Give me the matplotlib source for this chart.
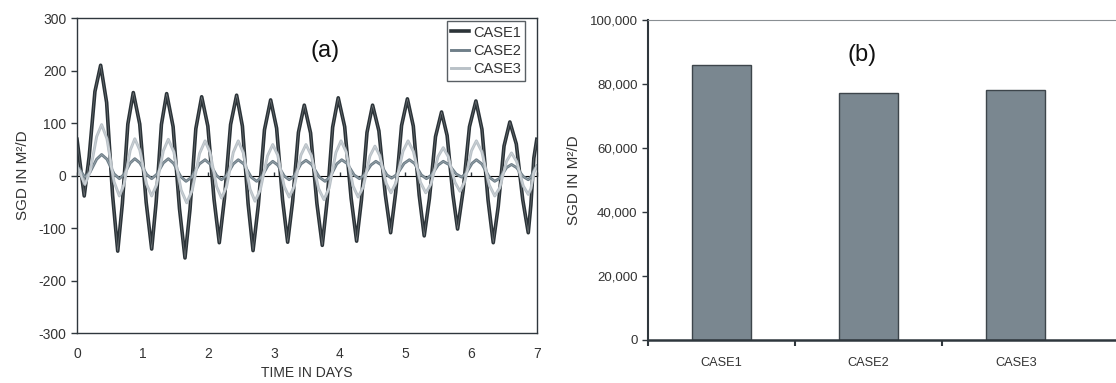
import matplotlib
matplotlib.use("Agg")
import matplotlib.pyplot as plt
from matplotlib.ticker import FuncFormatter

plt.rcParams['font.family'] = ['Liberation Sans', 'DejaVu Sans']
plt.rcParams['axes.unicode_minus'] = False

# (a) SGD time series (peaks, troughs and flanks)
t_case1 = [0, 0.11, 0.185, 0.273, 0.36, 0.451, 0.542, 0.62, 0.691, 0.774, 0.857, 0.955, 1.053,
           1.137, 1.205, 1.285, 1.365, 1.463, 1.56, 1.644, 1.72, 1.809, 1.898, 1.992, 2.086,
           2.166, 2.245, 2.338, 2.43, 2.518, 2.605, 2.68, 2.76, 2.854, 2.948, 3.039, 3.129,
           3.207, 3.283, 3.371, 3.46, 3.556, 3.652, 3.734, 3.807, 3.892, 3.977, 4.075, 4.173,
           4.257, 4.33, 4.415, 4.5, 4.596, 4.693, 4.775, 4.852, 4.941, 5.03, 5.12, 5.209,
           5.286, 5.365, 5.458, 5.55, 5.635, 5.721, 5.794, 5.878, 5.975, 6.073, 6.165, 6.258,
           6.337, 6.413, 6.501, 6.59, 6.688, 6.786, 6.87, 6.91, 6.955, 7.0]
sgd_case1 = [69, -39, 36, 160, 210, 139, -38, -144, -53, 98, 158, 98, -51,
             -140, -51, 97, 156, 93, -63, -157, -65, 89, 150, 94, -45,
             -128, -44, 97, 153, 94, -54, -143, -57, 87, 144, 90, -46,
             -127, -49, 82, 134, 81, -53, -133, -49, 92, 148, 93, -43,
             -125, -47, 82, 134, 85, -36, -109, -32, 95, 146, 94, -37,
             -115, -44, 74, 121, 76, -35, -102, -29, 93, 142, 88, -47,
             -128, -59, 56, 102, 60, -46, -109, -56, 33, 69]

t_case2 = [0, 0.12, 0.197, 0.299, 0.375, 0.456, 0.564, 0.645, 0.716, 0.81, 0.88, 0.957, 1.06,
           1.137, 1.213, 1.314, 1.39, 1.471, 1.579, 1.66, 1.747, 1.863, 1.95, 2.025, 2.125,
           2.2, 2.277, 2.379, 2.455, 2.539, 2.651, 2.735, 2.809, 2.907, 2.98, 3.055, 3.155,
           3.23, 3.307, 3.409, 3.486, 3.573, 3.688, 3.775, 3.852, 3.954, 4.03, 4.111, 4.219,
           4.3, 4.375, 4.475, 4.55, 4.622, 4.718, 4.79, 4.871, 4.979, 5.06, 5.138, 5.242,
           5.32, 5.397, 5.499, 5.576, 5.66, 5.771, 5.855, 5.923, 6.013, 6.08, 6.164, 6.276,
           6.36, 6.437, 6.539, 6.615, 6.692, 6.794, 6.87, 6.91, 6.96, 7.0]
sgd_case2 = [18, -3, 6, 31, 40, 31, 3, -6, 2, 24, 32, 24, 2,
             -6, 2, 24, 32, 23, -2, -11, -3, 22, 30, 22, 0,
             -8, 0, 22, 30, 22, -3, -11, -3, 19, 27, 20, -1,
             -8, -1, 22, 29, 21, -3, -11, -3, 22, 30, 23, 1,
             -6, 1, 20, 27, 21, 1, -5, 2, 23, 30, 23, 1,
             -6, 1, 20, 27, 21, 3, -3, 4, 23, 30, 22, -3,
             -11, -5, 15, 21, 15, -2, -8, -3, 10, 18]

t_case3 = [0, 0.12, 0.197, 0.299, 0.375, 0.456, 0.564, 0.645, 0.716, 0.81, 0.88, 0.957, 1.06,
           1.137, 1.213, 1.314, 1.39, 1.474, 1.586, 1.67, 1.754, 1.866, 1.95, 2.025, 2.125,
           2.2, 2.277, 2.379, 2.455, 2.532, 2.634, 2.71, 2.791, 2.899, 2.98, 3.055, 3.155,
           3.23, 3.307, 3.409, 3.486, 3.568, 3.678, 3.76, 3.838, 3.942, 4.02, 4.098, 4.202,
           4.28, 4.357, 4.459, 4.536, 4.609, 4.707, 4.78, 4.858, 4.962, 5.04, 5.121, 5.229,
           5.31, 5.39, 5.496, 5.576, 5.652, 5.754, 5.83, 5.905, 6.005, 6.08, 6.164, 6.276,
           6.36, 6.437, 6.539, 6.615, 6.692, 6.794, 6.87, 6.91, 6.96, 7.0]
sgd_case3 = [18, -17, 6, 74, 97, 70, -12, -39, -17, 48, 70, 48, -17,
             -39, -17, 47, 69, 45, -28, -52, -28, 42, 66, 44, -21,
             -43, -21, 44, 66, 43, -26, -49, -27, 37, 59, 39, -21,
             -41, -21, 39, 59, 38, -25, -46, -24, 44, 66, 45, -20,
             -41, -22, 37, 56, 38, -15, -33, -13, 46, 66, 46, -13,
             -33, -16, 36, 53, 36, -13, -30, -11, 47, 66, 45, -18,
             -39, -23, 27, 43, 27, -20, -36, -25, 7, 18]

# (b) total SGD per case
cases = ["CASE1", "CASE2", "CASE3"]
total_sgd = [85900, 77300, 78000]

dark = "#2f373d"
text_col = "#333333"
line_colors = ["#2b3338", "#6f7f89", "#b9c1c7"]

fig = plt.figure(figsize=(11.16, 3.83), dpi=100)

# ---- panel (a)
ax1 = fig.add_axes([0.069, 0.1305, 0.412, 0.8225])
series = [(t_case1, sgd_case1, "CASE1", 2.6), (t_case2, sgd_case2, "CASE2", 2.1), (t_case3, sgd_case3, "CASE3", 2.1)]
for (t, v, name, lw), c in zip(series, line_colors):
    ax1.plot(t, v, color=c, lw=lw, label=name, solid_joinstyle='round')
# thin light trace running inside each curve
for (t, v, name, lw), c in zip(series, line_colors):
    ax1.plot(t, v, color="white", lw=0.4, alpha=0.35)

ax1.set_xlim(0, 7)
ax1.set_ylim(-300, 300)
ax1.set_yticks(range(-300, 301, 100))
ax1.set_xticks(range(0, 8))
ax1.tick_params(axis='x', length=0, pad=10, labelsize=10, colors=text_col)
ax1.tick_params(axis='y', direction='out', length=4, width=1, color=dark, labelsize=10, labelcolor=text_col)
for s in ax1.spines.values():
    s.set_color(dark)
    s.set_linewidth(1)

# horizontal axis crossing at zero
zero_ax = ax1.secondary_xaxis(0.5)
zero_ax.set_xticks(range(0, 8))
zero_ax.set_xticklabels([])
zero_ax.tick_params(direction='out', length=3, width=1, color=dark)
zero_ax.spines['bottom'].set_color(dark)
zero_ax.spines['bottom'].set_linewidth(1)

ax1.set_xlabel("TIME IN DAYS", fontsize=10, color=text_col, labelpad=4)
ax1.set_ylabel("SGD IN M²/D", fontsize=11, color=text_col, labelpad=6)
ax1.text(3.77, 237, "(a)", fontsize=17, ha='center', va='center', color="#111111")

leg = ax1.legend(loc='upper right', bbox_to_anchor=(0.975, 0.99), fontsize=10.5, frameon=True,
                 fancybox=False, handlelength=1.2, handletextpad=0.3, borderpad=0.3,
                 labelspacing=0.3, borderaxespad=0)
leg.get_frame().set_edgecolor(dark)
leg.get_frame().set_linewidth(1)
for txt in leg.get_texts():
    txt.set_color(text_col)

# ---- panel (b)
ax2 = fig.add_axes([0.5806, 0.1123, 0.4194, 0.8355])
x = list(range(len(cases)))
ax2.bar(x, total_sgd, width=0.4, color="#7a8790", edgecolor="#3d454b", linewidth=1)
ax2.set_xlim(-0.5, 2.68)
ax2.set_ylim(0, 100000)
ax2.set_yticks(range(0, 100001, 20000))
ax2.yaxis.set_major_formatter(FuncFormatter(lambda v, p: f"{int(v):,}"))
ax2.set_xticks(x)
ax2.set_xticklabels(cases)
ax2.set_xticks([-0.5, 0.5, 1.5], minor=True)
ax2.tick_params(axis='x', which='major', length=0, pad=12, labelsize=9.2, colors=text_col)
ax2.tick_params(axis='x', which='minor', direction='out', length=4, width=1.5, color=dark)
ax2.tick_params(axis='y', direction='out', length=4, width=1, color=dark, labelsize=9.5, labelcolor=text_col)
ax2.spines['right'].set_visible(False)
ax2.spines['top'].set_color("#8a8f93")
ax2.spines['top'].set_linewidth(0.8)
ax2.spines['left'].set_color(dark)
ax2.spines['left'].set_linewidth(1.5)
ax2.spines['bottom'].set_color(dark)
ax2.spines['bottom'].set_linewidth(1.8)
ax2.set_ylabel("SGD IN M²/D", fontsize=11, color=text_col, labelpad=6)
ax2.text(0.956, 89000, "(b)", fontsize=17, ha='center', va='center', color="#111111")

fig.savefig("out.png", dpi=100)
